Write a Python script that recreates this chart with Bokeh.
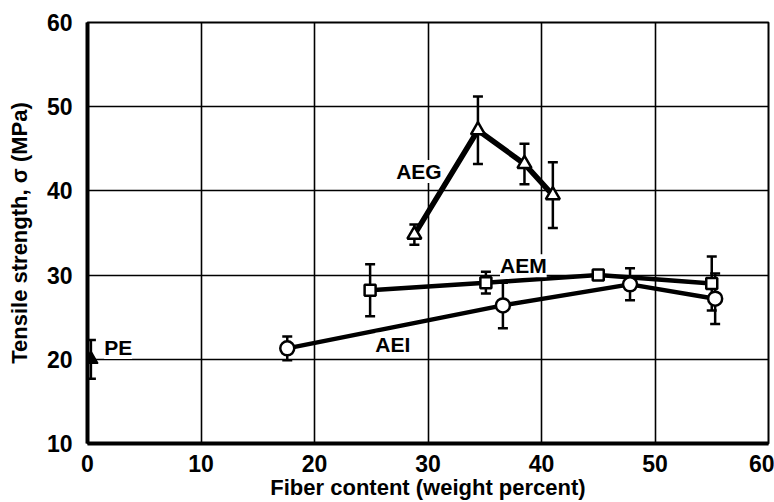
from bokeh.plotting import figure
from bokeh.models import ColumnDataSource, Whisker, TeeHead, Range1d, FixedTicker, Label
from bokeh.embed import file_html
from bokeh.resources import INLINE

# ---- data ----
pe_x = [0.3]
pe_y = [20.0]
pe_err = [2.3]

aei_x = [17.6, 36.6, 47.8, 55.3]
aei_y = [21.3, 26.4, 28.9, 27.2]
aei_err = [1.4, 2.7, 1.9, 3.0]

aem_x = [24.9, 35.1, 45.0, 55.0]
aem_y = [28.2, 29.1, 30.0, 29.0]
aem_err = [3.1, 1.3, 0.0, 3.2]

aeg_x = [28.8, 34.4, 38.5, 41.0]
aeg_y = [34.8, 47.2, 43.2, 39.5]
aeg_err = [1.2, 4.0, 2.4, 3.9]

x_ticks = [0, 10, 20, 30, 40, 50, 60]
y_ticks = [10, 20, 30, 40, 50, 60]

labels = ["PE", "AEI", "AEM", "AEG"]
label_x = [2.7, 26.9, 38.4, 29.2]
label_y = [21.4, 21.8, 31.1, 42.3]

FONT = "Liberation Sans"

p = figure(width=774, height=502, output_backend="svg", toolbar_location=None,
           x_range=Range1d(0, 60), y_range=Range1d(10, 60),
           min_border_left=87, min_border_right=6, min_border_top=22, min_border_bottom=59,
           x_axis_label="Fiber content (weight percent)",
           y_axis_label="Tensile strength, \u03c3 (MPa)")

p.background_fill_color = "white"
p.border_fill_color = "white"
p.outline_line_color = "black"
p.outline_line_width = 2

for ax in (p.xaxis[0], p.yaxis[0]):
    ax.axis_line_width = 4
    ax.axis_line_color = "black"
    ax.major_tick_line_color = None
    ax.minor_tick_line_color = None
    ax.major_label_text_font = FONT
    ax.major_label_text_font_size = "23px"
    ax.major_label_text_font_style = "bold"
    ax.major_label_text_color = "black"
    ax.axis_label_text_font = FONT
    ax.axis_label_text_font_size = "22px"
    ax.axis_label_text_font_style = "bold"
    ax.axis_label_text_color = "black"

p.xaxis.ticker = FixedTicker(ticks=x_ticks)
p.yaxis.ticker = FixedTicker(ticks=y_ticks)
p.xaxis.major_label_standoff = 5
p.yaxis.major_label_standoff = 9
p.xaxis.axis_label_standoff = 0
p.yaxis.axis_label_standoff = 12

p.xgrid.ticker = FixedTicker(ticks=x_ticks)
p.ygrid.ticker = FixedTicker(ticks=y_ticks)
p.grid.grid_line_color = "black"
p.grid.grid_line_width = 1.6
p.grid.grid_line_alpha = 1.0


def add_whiskers(xs, ys, errs):
    sel = [i for i in range(len(xs)) if errs[i] > 0]
    src = ColumnDataSource(dict(
        x=[xs[i] for i in sel],
        lo=[ys[i] - errs[i] for i in sel],
        hi=[ys[i] + errs[i] for i in sel]))
    w = Whisker(source=src, base="x", lower="lo", upper="hi",
                line_color="black", line_width=2.5,
                upper_head=TeeHead(size=10, line_width=2.5, line_color="black"),
                lower_head=TeeHead(size=10, line_width=2.5, line_color="black"))
    p.add_layout(w)


for xs, ys, errs in [(pe_x, pe_y, pe_err), (aei_x, aei_y, aei_err),
                     (aem_x, aem_y, aem_err), (aeg_x, aeg_y, aeg_err)]:
    add_whiskers(xs, ys, errs)

p.line(aei_x, aei_y, line_color="black", line_width=4.5)
p.line(aem_x, aem_y, line_color="black", line_width=4.5)
p.line(aeg_x, aeg_y, line_color="black", line_width=5.5)

p.scatter(aei_x, aei_y, marker="circle", size=14, fill_color="white",
          line_color="black", line_width=2.5)
p.scatter(aem_x, aem_y, marker="square", size=11, fill_color="white",
          line_color="black", line_width=2.5)
p.scatter(aeg_x, aeg_y, marker="triangle", size=14, fill_color="white",
          line_color="black", line_width=2.5)
p.scatter(pe_x, pe_y, marker="triangle", size=14, fill_color="black",
          line_color="black", line_width=1.5)

for t, lx, ly in zip(labels, label_x, label_y):
    p.add_layout(Label(x=lx, y=ly, text=t, text_font=FONT, text_font_size="21px",
                       text_font_style="bold", text_color="black",
                       text_align="center", text_baseline="middle",
                       background_fill_color="white"))

open("out.html", "w").write(file_html(p, INLINE))
